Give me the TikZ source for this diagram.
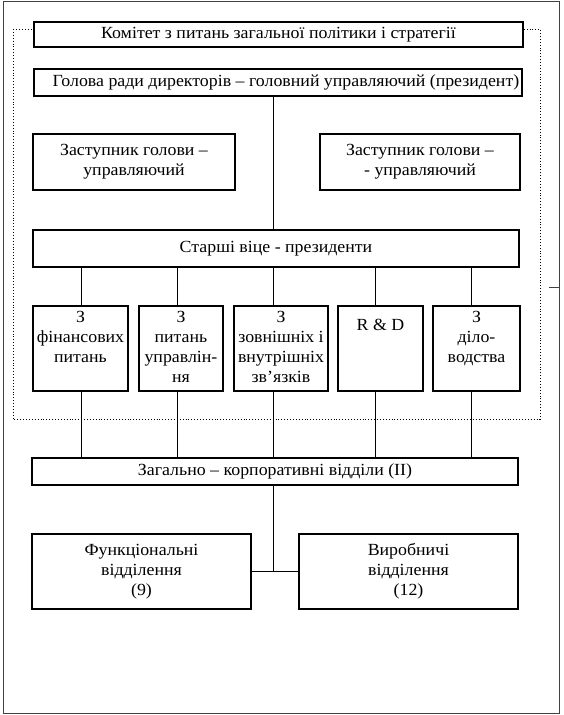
\documentclass[tikz,border=0pt]{standalone}
\usepackage{fontspec}
\setmainfont{Liberation Serif}[FakeStretch=1.05]
\usetikzlibrary{positioning, calc}

\begin{document}
\begin{tikzpicture}[x=1pt, y=-1pt, font=\fontsize{17}{20}\selectfont,
  box/.style = {draw, line width=2.5pt, fill=white, inner sep=0pt, align=center},
  toptext/.style = {anchor=north, align=center, inner sep=0pt},
  link/.style = {line width=0.8pt},
  frame/.style = {draw=black!75, line width=0.9pt}
]
\useasboundingbox (0,0) rectangle (564,715);
\draw[frame] (3,1.5) rectangle (559.5,713);
\coordinate (tick) at (549,287);
\draw[frame] (tick) -- ++(10.5,0);
\draw[dotted, line width=0.9pt] (13,29) rectangle (540,419);
% top management
\node[box, minimum width=489pt, minimum height=25pt] (committee) at (278.5,34.5) {Комітет з питань загальної політики і стратегії};
\node[box, minimum width=488pt, minimum height=27pt] (head) at (278,82.5) {\makebox[0pt]{\hspace*{16pt}Голова ради директорів – головний управляючий (президент)}};
\node[box, minimum width=202pt, minimum height=56pt] (deputyL) at (134,162) {Заступник голови –\\управляючий};
\node[box, minimum width=200pt, minimum height=56pt] (deputyR) at (420,162) {Заступник голови –\\- управляючий};
\node[box, minimum width=486pt, minimum height=37pt] (seniors) at (276,248.5) {Старші віце - президенти};
% vice-presidents
\node[box, minimum width=95pt, minimum height=85pt] (fin) at (80.5,348.5) {};
\node[box, minimum width=84pt, minimum height=85pt] (man) at (181,348.5) {};
\node[box, minimum width=94pt, minimum height=85pt] (ext) at (281,348.5) {};
\node[box, minimum width=85pt, minimum height=85pt] (rnd) at (380.5,348.5) {};
\node[box, minimum width=87pt, minimum height=85pt] (doc) at (476.5,348.5) {};
\node[toptext] (finT) at ([yshift=-6pt]fin.north) {З\\фінансових\\питань};
\node[toptext] (manT) at ([yshift=-6pt]man.north) {З\\питань\\управлін-\\ня};
\node[toptext] (extT) at ([yshift=-6pt]ext.north) {З\\зовнішніх і\\внутрішніх\\зв’язків};
\node[toptext] (rndT) at ([yshift=-6pt]rnd.north) {\\R \& D};
\node[toptext] (docT) at ([yshift=-6pt]doc.north) {З\\діло-\\водства};
% divisions
\node[box, minimum width=486pt, minimum height=27pt] (corp) at (275,471.5) {Загально – корпоративні відділи (ІІ)};
\node[box, minimum width=219pt, minimum height=75pt] (func) at (141.5,571.5) {Функціональні\\відділення\\(9)};
\node[box, minimum width=219pt, minimum height=75pt] (prod) at (408.5,571.5) {Виробничі\\відділення\\(12)};
% connectors
\coordinate (spine) at (273,0);
\draw[link] (head.south -| spine) -- (seniors.north -| spine);
\foreach \b/\x in {fin/81, man/177, ext/273, rnd/375, doc/471} {
  \coordinate (c-\b) at (\x,0);
  \draw[link] (seniors.south -| c-\b) -- (\b.north -| c-\b);
  \draw[link] (\b.south -| c-\b) -- (corp.north -| c-\b);
}
\draw[link] (corp.south -| spine) -- (spine |- func.east);
\draw[link] (func.east) -- (prod.west);
\end{tikzpicture}
\end{document}
